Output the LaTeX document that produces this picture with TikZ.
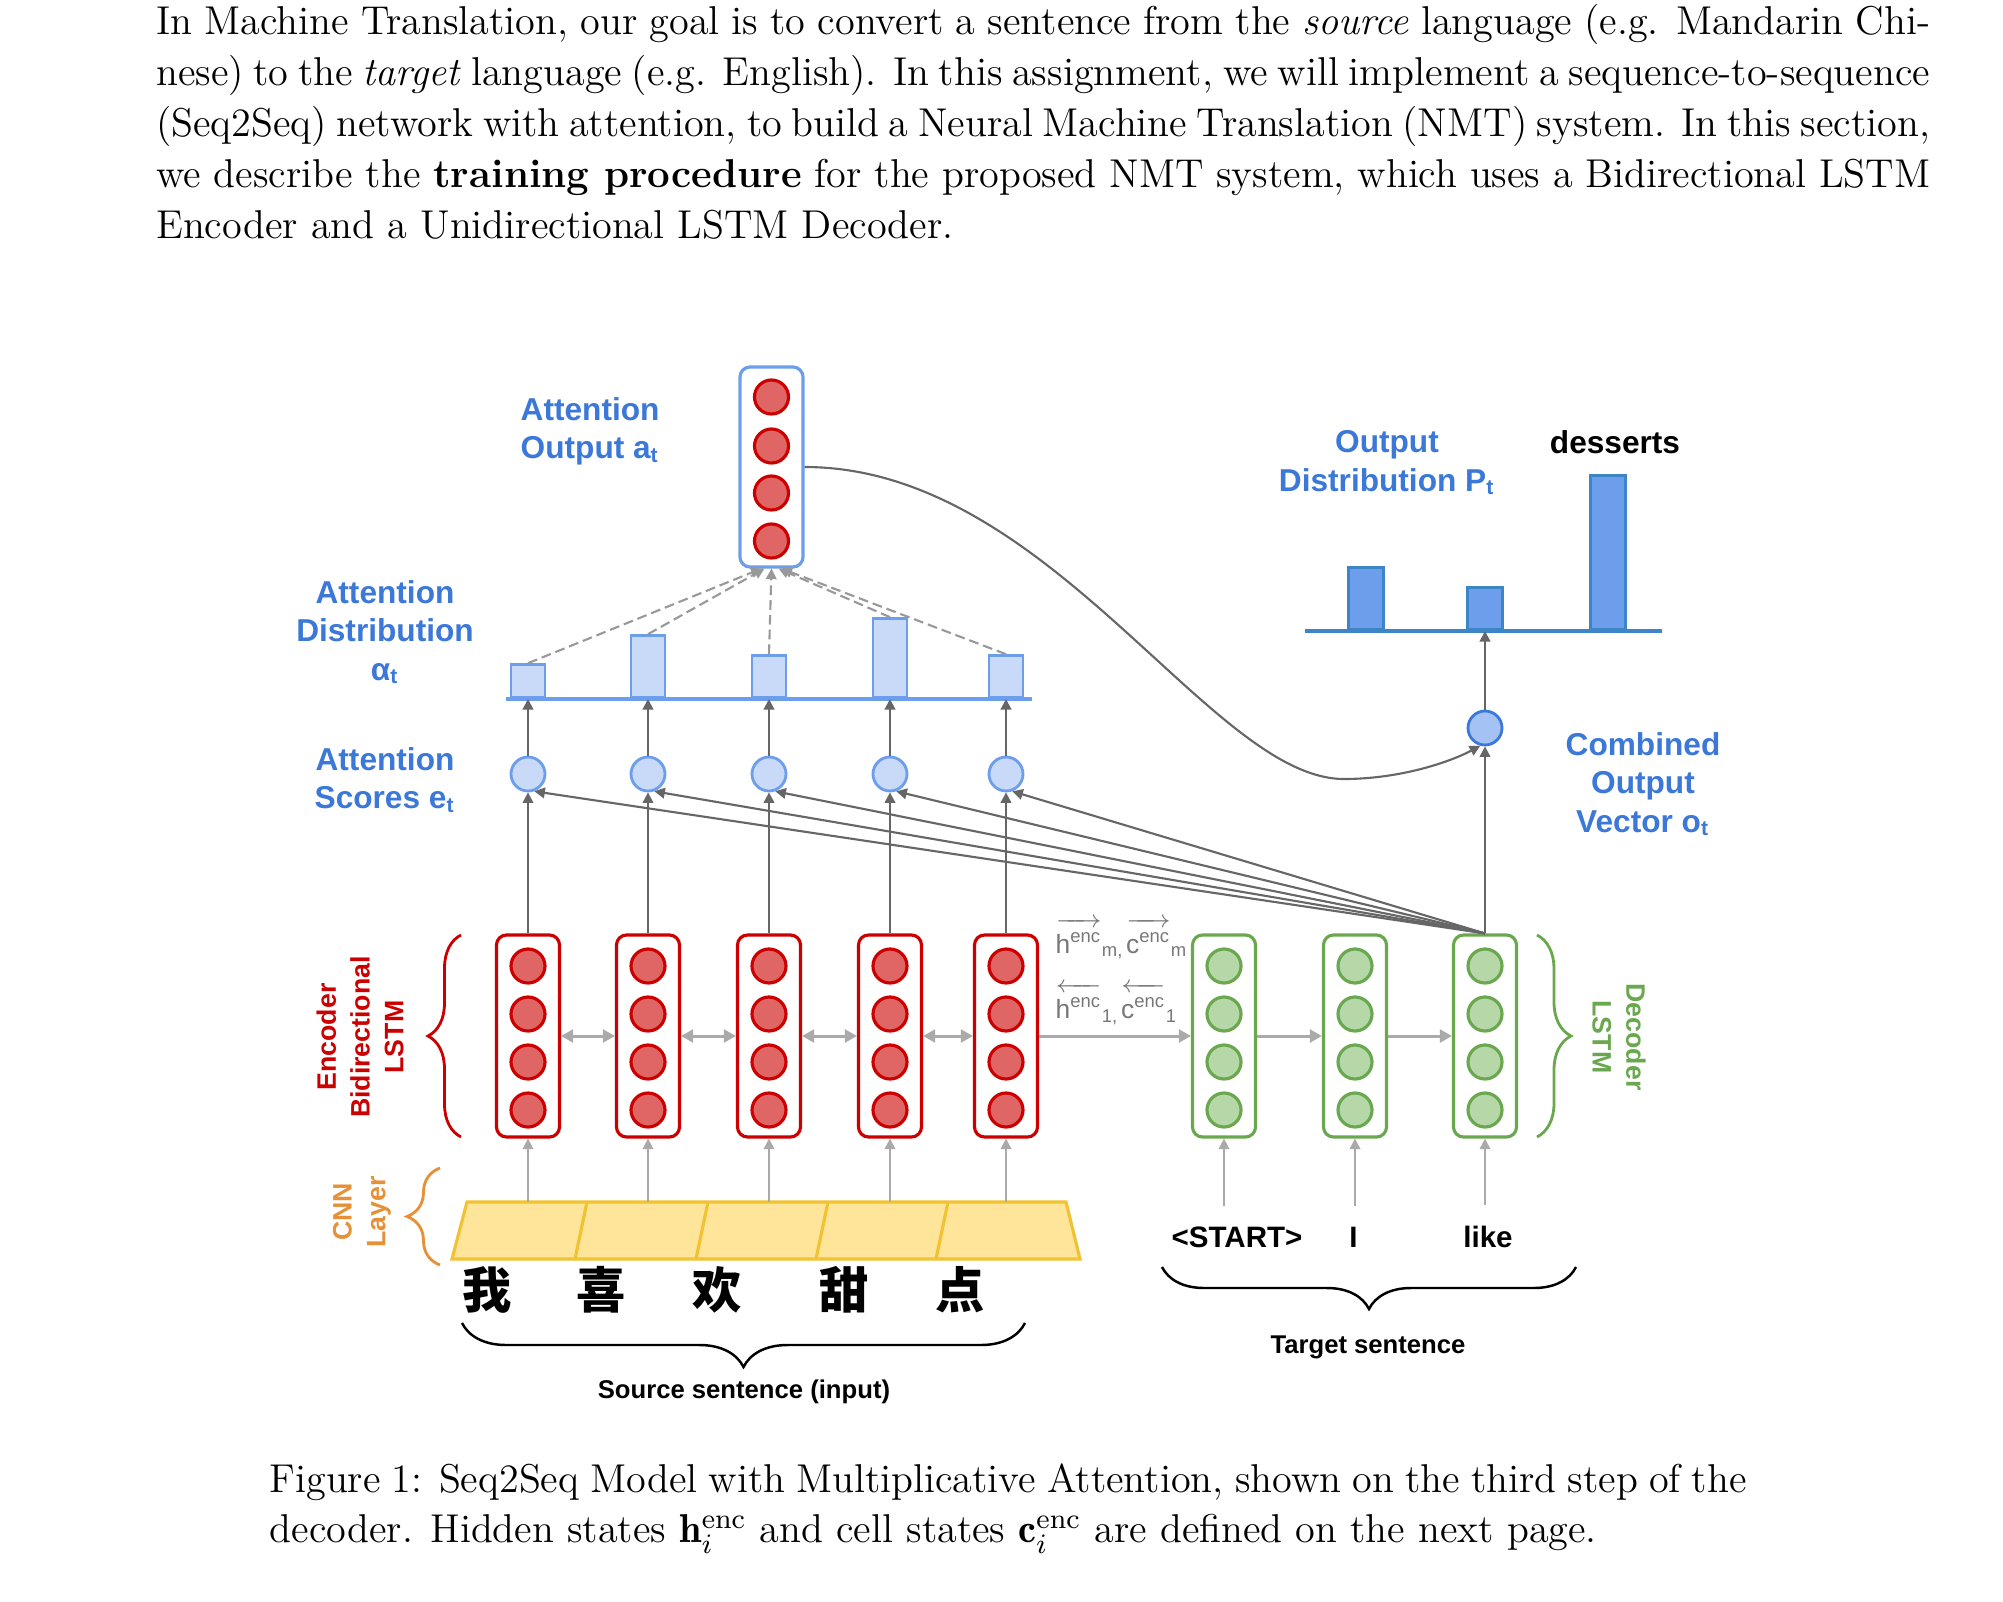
\documentclass[tikz,border=0pt]{standalone}
\usepackage{fontspec}
\usepackage{amsmath}
\usetikzlibrary{arrows.meta, decorations.pathreplacing}
\newfontfamily\diagfont{Liberation Sans}
\newfontfamily\cjk{Noto Sans CJK SC}
\definecolor{encred}{RGB}{204, 0, 0}
\definecolor{unitred}{RGB}{224, 102, 102}
\definecolor{decgreen}{RGB}{106, 168, 79}
\definecolor{unitgreen}{RGB}{182, 215, 168}
\definecolor{attblue}{RGB}{109, 158, 235}
\definecolor{paleblue}{RGB}{201, 218, 248}
\definecolor{labelblue}{RGB}{60, 120, 216}
\definecolor{midblue}{RGB}{164, 194, 244}
\definecolor{outblue}{RGB}{61, 133, 198}
\definecolor{cnnfill}{RGB}{255, 229, 153}
\definecolor{cnnline}{RGB}{241, 194, 50}
\definecolor{cnnorange}{RGB}{230, 145, 56}
\definecolor{darkline}{RGB}{102, 102, 102}
\definecolor{lightline}{RGB}{170, 170, 170}
\definecolor{dashline}{RGB}{153, 153, 153}
\definecolor{hstate}{RGB}{120, 120, 120}

\begin{document}
\begin{tikzpicture}[y=-1cm,
    body/.style={inner sep=0pt, font=\fontsize{11.45}{14.5}\selectfont},
    bluetext/.style={inner sep=0pt, text=labelblue, align=center, font=\diagfont\bfseries\fontsize{9}{10.9}\selectfont},
    sidelabel/.style={inner sep=0pt, align=center, font=\diagfont\bfseries\fontsize{7.6}{9.6}\selectfont},
    word/.style={inner sep=0pt, anchor=base, font=\diagfont\bfseries\fontsize{8.4}{10}\selectfont},
    smallword/.style={inner sep=0pt, anchor=base, font=\diagfont\bfseries\fontsize{7.3}{9}\selectfont},
    hanzi/.style={inner sep=0pt, font=\cjk\bfseries\fontsize{14}{16}\selectfont},
    hlabel/.style={inner sep=0pt, anchor=base west, text=hstate, font=\diagfont\fontsize{7.5}{9.2}\selectfont},
    lstm/.style={draw, fill=white, rounded corners=0.1cm, line width=0.9pt, minimum width=0.63cm, minimum height=2.02cm},
    unit/.style={circle, draw, line width=0.9pt, minimum size=0.34cm, inner sep=0pt},
    score/.style={circle, draw=attblue, fill=paleblue, line width=0.8pt, minimum size=0.34cm, inner sep=0pt},
    abar/.style={draw=attblue, fill=paleblue, line width=0.8pt, minimum width=0.34cm, inner sep=0pt, anchor=south},
    obar/.style={draw=outblue, fill=attblue, line width=0.8pt, minimum width=0.35cm, inner sep=0pt, anchor=south},
    arrow/.style={-{Triangle[length=3pt, width=3pt]}, darkline, line width=0.6pt},
    inarrow/.style={-{Triangle[length=3pt, width=3pt]}, lightline, line width=0.6pt},
    statearrow/.style={-{Triangle[length=3.4pt, width=3.6pt]}, lightline, line width=0.85pt},
    biarrow/.style={{Triangle[length=3.4pt, width=3.6pt]}-{Triangle[length=3.4pt, width=3.6pt]}, lightline, line width=0.85pt},
    dasharrow/.style={-{Triangle[length=3pt, width=3pt]}, dashline, line width=0.6pt, dash pattern=on 2.8pt off 1.4pt},
    curly/.style={decorate, decoration={brace, amplitude=#1}, line width=0.8pt},
    curly/.default=0.3cm
]
\path[use as bounding box, fill=white] (0,0) rectangle (20.03,16.02);

% Page text above the figure
\node[body, anchor=base west] (par1) at (1.555, 0.345) {\makebox[17.74cm][s]{In Machine Translation, our goal is to convert a sentence from the \textit{source} language (e.g. Mandarin Chi-}};
\node[body, anchor=base west] (par2) at (1.555, 0.855) {\makebox[17.74cm][s]{nese) to the \textit{target} language (e.g. English). In this assignment, we will implement a sequence-to-sequence}};
\node[body, anchor=base west] (par3) at (1.555, 1.365) {\makebox[17.74cm][s]{(Seq2Seq) network with attention, to build a Neural Machine Translation (NMT) system. In this section,}};
\node[body, anchor=base west] (par4) at (1.555, 1.875) {\makebox[17.74cm][s]{we describe the \textbf{training procedure} for the proposed NMT system, which uses a Bidirectional LSTM}};
\node[body, anchor=base west] (par5) at (1.555, 2.385) {Encoder and a Unidirectional LSTM Decoder.};

% CNN layer
\draw[cnnline, fill=cnnfill, line width=0.9pt] (4.67,12.02) -- (10.66,12.02) -- (10.80,12.59) -- (4.52,12.59) -- cycle;
\foreach \x in {5.87, 7.08, 8.28, 9.48}
  \draw[cnnline, line width=0.9pt] (\x,12.02) -- (\x-0.12,12.59);

% Encoder
\foreach \x [count=\i] in {5.28, 6.48, 7.69, 8.90, 10.06} {
  \node[lstm, draw=encred] (enc\i) at (\x, 10.36) {};
  \foreach \y in {9.66, 10.14, 10.62, 11.10}
    \node[unit, draw=encred, fill=unitred] at (\x, \y) {};
  \coordinate (cnn\i) at (\x, 12.02);
}

% Decoder
\foreach \x [count=\i] in {12.24, 13.55, 14.85} {
  \node[lstm, draw=decgreen] (dec\i) at (\x, 10.36) {};
  \foreach \y in {9.66, 10.14, 10.62, 11.10}
    \node[unit, draw=decgreen, fill=unitgreen] at (\x, \y) {};
}

% Attention scores and distribution
\draw[attblue, line width=0.9pt] (5.06,6.99) -- (10.32,6.99);
\foreach \x/\h [count=\i] in {5.28/0.33, 6.48/0.62, 7.69/0.42, 8.90/0.79, 10.06/0.42} {
  \node[score] (score\i) at (\x, 7.74) {};
  \node[abar, minimum height=\h cm] (bar\i) at (\x, 6.99) {};
}

% Attention output
\node[lstm, draw=attblue, minimum height=2.0cm] (att) at (7.715, 4.67) {};
\foreach \y in {3.97, 4.46, 4.93, 5.41}
  \node[unit, draw=encred, fill=unitred] at (7.715, \y) {};

% Output distribution
\draw[outblue, line width=0.9pt] (13.05,6.31) -- (16.62,6.31);
\foreach \x/\h [count=\i] in {13.66/0.62, 14.85/0.42, 16.08/1.54}
  \node[obar, minimum height=\h cm] (obar\i) at (\x, 6.31) {};
\node[circle, draw=labelblue, fill=midblue, line width=0.8pt, minimum size=0.34cm, inner sep=0pt] (comb) at (14.85, 7.28) {};

% Connectors
\foreach \i in {1,...,5} {
  \draw[inarrow] (cnn\i) -- (enc\i.south);
  \draw[arrow] (enc\i.north) -- (score\i.south);
  \draw[arrow] (score\i.north) -- (bar\i.south);
  \draw[arrow] (dec3.north) -- (score\i.-70);
}
\foreach \i/\s in {1/-0.10, 2/-0.07, 3/0, 4/0.07, 5/0.10}
  \draw[dasharrow] (bar\i.north) -- ([xshift=\s cm]att.south);
\foreach \i/\j in {1/2, 2/3, 3/4, 4/5}
  \draw[biarrow] (enc\i.east) -- (enc\j.west);
\draw[statearrow] (enc5.east) -- (dec1.west);
\draw[statearrow] (dec1.east) -- (dec2.west);
\draw[statearrow] (dec2.east) -- (dec3.west);
\draw[arrow] (dec3.north) -- (comb.south);
\draw[arrow] (comb.north) -- (obar2.south);
\draw[arrow] (att.east) .. controls (10.5,4.67) and (12.1,7.79) .. (13.44,7.79) .. controls (14.0,7.79) and (14.5,7.62) .. (comb.-105);

% Hidden and cell states handed to the decoder
\node[hlabel] (hfwd) at (10.55, 9.53) {$\overrightarrow{\text{h}^{\text{enc}}\rule{0pt}{0.95em}}{}_{\text{m,}}\hspace{0.08em}\overrightarrow{\text{c}^{\text{enc}}\rule{0pt}{0.95em}}{}_{\text{m}}$};
\node[hlabel] (hbwd) at (10.55, 10.18) {$\overleftarrow{\text{h}^{\text{enc}}\rule{0pt}{0.95em}}{}_{\text{1,}}\hspace{0.08em}\overleftarrow{\text{c}^{\text{enc}}\rule{0pt}{0.95em}}{}_{\text{1}}$};

% Words
\foreach \x/\c [count=\i] in {4.87/我, 6.01/喜, 7.17/欢, 8.44/甜, 9.60/点}
  \node[hanzi] (src\i) at (\x, 12.90) {\c};
\node[word] (w1) at (12.37, 12.47) {<START>};
\node[word] (w2) at (13.535, 12.47) {I};
\node[word] (w3) at (14.88, 12.47) {like};
\foreach \i in {1,2,3}
  \draw[inarrow, shorten <=0.2cm] (w\i.north -| dec\i.south) -- (dec\i.south);
\node[word, font=\diagfont\bfseries\fontsize{9}{10.9}\selectfont] (dessert) at (16.15, 4.53) {desserts};

% Braces and side labels
\draw[curly=0.33cm, encred] (4.61,11.37) -- (4.61,9.35);
\draw[curly=0.34cm, decgreen] (15.37,9.35) -- (15.37,11.37);
\draw[curly=0.33cm, cnnorange] (4.40,12.65) -- (4.40,11.68);
\draw[curly=0.44cm, line width=0.7pt] (10.25,13.23) -- (4.62,13.23);
\draw[curly=0.42cm, line width=0.7pt] (15.76,12.67) -- (11.62,12.67);
\node[sidelabel, text=encred, rotate=90] (enclabel) at (3.60, 10.37) {Encoder\\Bidirectional\\LSTM};
\node[sidelabel, text=decgreen, rotate=-90] (declabel) at (16.19, 10.37) {Decoder\\LSTM};
\node[sidelabel, text=cnnorange, rotate=90] (cnnlabel) at (3.62, 12.12) {CNN\\Layer};
\node[smallword] (srclabel) at (7.44, 13.98) {Source sentence (input)};
\node[smallword] (tgtlabel) at (13.68, 13.53) {Target sentence};

% Blue labels
\node[bluetext, align=left, anchor=north west] (attout) at (5.20, 3.97) {Attention\\Output a\textsubscript{t}};
\node[bluetext, anchor=north] (attdist) at (3.85, 5.80) {Attention\\Distribution\\α\textsubscript{t}};
\node[bluetext, anchor=north] (attscore) at (3.85, 7.47) {Attention\\Scores e\textsubscript{t}};
\node[bluetext, anchor=north] (outdist) at (13.87, 4.30) {Output\\Distribution P\textsubscript{t}};
\node[bluetext, anchor=north] (combout) at (16.43, 7.32) {Combined\\Output\\Vector o\textsubscript{t}};

% Caption
\node[body, anchor=base west] (cap1) at (2.69, 14.92) {\makebox[14.77cm][s]{Figure 1: Seq2Seq Model with Multiplicative Attention, shown on the third step of the}};
\node[body, anchor=base west] (cap2) at (2.69, 15.42) {decoder. Hidden states $\mathbf{h}_i^{\mathrm{enc}}$ and cell states $\mathbf{c}_i^{\mathrm{enc}}$ are defined on the next page.};
\end{tikzpicture}
\end{document}
